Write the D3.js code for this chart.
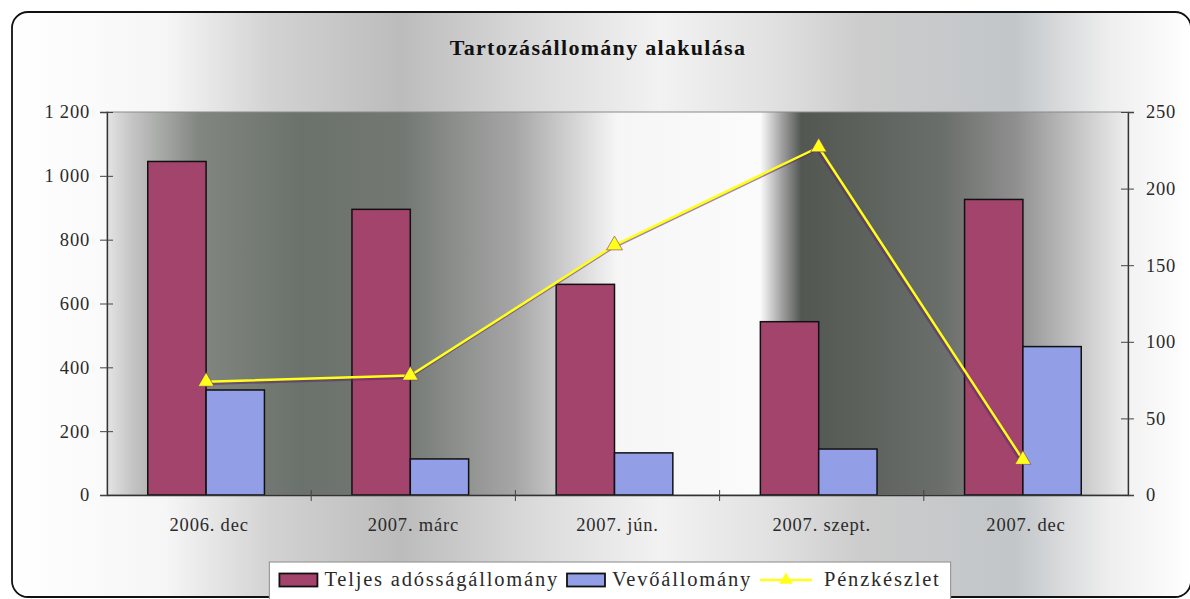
<!DOCTYPE html>
<html>
<head>
<meta charset="utf-8">
<script src="https://cdn.jsdelivr.net/npm/d3@7"></script>
<style>
	body { margin: 0; background: #fff; }
	text { font-family: "Liberation Serif", "DejaVu Serif", serif; fill: #2a2a2a; }
</style>
</head>
<body>
<div id="chart"></div>
<script>
// chart values
const categories = ["2006. dec", "2007. márc", "2007. jún.", "2007. szept.", "2007. dec"];
const debtValues = [1045, 895, 660, 543, 926];
const receivableValues = [329, 113, 132, 144, 465];
const cashValues = [74, 78, 163, 227, 23];
const seriesNames = ["Teljes adósságállomány", "Vevőállomány", "Pénzkészlet"];
const leftTicks = [0, 200, 400, 600, 800, 1000, 1200];
const rightTicks = [0, 50, 100, 150, 200, 250];
const title = "Tartozásállomány alakulása";

const W = 1190, H = 599;
const plot = {left: 107, right: 1128, top: 112, bottom: 495};
const colors = {debt: "#a3446d", recv: "#929ee6", cash: "#ffff1a"};

const huFormat = d3.formatLocale({decimal: ",", thousands: " ", grouping: [3], currency: ["", ""]}).format(",d");

const svg = d3.select("#chart").append("svg")
	.attr("width", W)
	.attr("height", H);

const defs = svg.append("defs");

// outer (scanned, metallic) background
const outerGrad = defs.append("linearGradient").attr("id", "outerGrad");
[[0, "#ffffff"], [0.13, "#f6f6f6"], [0.22, "#d2d2d2"], [0.33, "#bcbcbc"], [0.45, "#dcdcdc"],
	[0.55, "#f2f2f2"], [0.64, "#e2e2e2"], [0.72, "#cccccc"], [0.85, "#c2c6c9"], [0.93, "#eeeeee"], [1, "#ffffff"]]
	.forEach(s => outerGrad.append("stop").attr("offset", s[0]).attr("stop-color", s[1]));

// plot area background
const plotGrad = defs.append("linearGradient").attr("id", "plotGrad");
[[0, "#e4e4e4"], [0.025, "#c4c4c4"], [0.09, "#818681"], [0.19, "#6b716b"], [0.29, "#737873"],
	[0.34, "#8b8e8b"], [0.40, "#a6a6a6"], [0.46, "#d6d6d6"], [0.50, "#f6f6f6"], [0.64, "#fbfbfb"],
	[0.66, "#a4a4a4"], [0.68, "#525752"], [0.75, "#5e635e"], [0.82, "#6b6f6b"], [0.89, "#8f8f8f"],
	[0.955, "#c9c9c9"], [1, "#eeeeee"]]
	.forEach(s => plotGrad.append("stop").attr("offset", s[0]).attr("stop-color", s[1]));

svg.append("rect")
	.attr("x", 12).attr("y", 12)
	.attr("width", W - 11).attr("height", H - 14)
	.attr("rx", 16)
	.attr("fill", "url(#outerGrad)")
	.attr("stroke", "#111")
	.attr("stroke-width", 1.8);

// title
svg.append("text")
	.attr("x", 598).attr("y", 55)
	.attr("text-anchor", "middle")
	.attr("font-size", 22)
	.attr("font-weight", "bold")
	.attr("letter-spacing", 1.3)
	.style("fill", "#111")
	.text(title);

// scales
const x0 = d3.scaleBand()
	.domain(categories)
	.range([plot.left, plot.right]);

const x1 = d3.scaleBand()
	.domain(["debt", "recv"])
	.range([0, x0.bandwidth()])
	.paddingInner(0)
	.paddingOuter(0.75);

const yL = d3.scaleLinear().domain([0, 1200]).range([plot.bottom, plot.top]);
const yR = d3.scaleLinear().domain([0, 250]).range([plot.bottom, plot.top]);

// plot area
svg.append("rect")
	.attr("x", plot.left).attr("y", plot.top)
	.attr("width", plot.right - plot.left).attr("height", plot.bottom - plot.top)
	.attr("fill", "url(#plotGrad)")
	.attr("stroke", "#8a8a8a")
	.attr("stroke-width", 1);

// bars
const barData = categories.map((c, i) => [
	{cat: c, key: "debt", value: debtValues[i]},
	{cat: c, key: "recv", value: receivableValues[i]}
]).flat();

svg.append("g")
	.selectAll("rect")
	.data(barData).enter()
	.append("rect")
	.attr("x", d => x0(d.cat) + x1(d.key) - 3)
	.attr("y", d => yL(d.value))
	.attr("width", x1.bandwidth())
	.attr("height", d => yL(0) - yL(d.value))
	.attr("fill", d => colors[d.key])
	.attr("stroke", "#111")
	.attr("stroke-width", 1.5);

// axes
const leftAxis = svg.append("g")
	.attr("transform", `translate(${plot.left},0)`)
	.call(d3.axisLeft(yL).tickValues(leftTicks).tickFormat(huFormat).tickSize(7).tickPadding(10));

const rightAxis = svg.append("g")
	.attr("transform", `translate(${plot.right},0)`)
	.call(d3.axisRight(yR).tickValues(rightTicks).tickSize(6).tickPadding(12));

const bottomAxis = svg.append("g")
	.attr("transform", `translate(0,${plot.bottom})`)
	.call(d3.axisBottom(x0).tickSize(0).tickPadding(23));

[leftAxis, rightAxis, bottomAxis].forEach(a => {
	a.select(".domain").attr("stroke", "#333").attr("stroke-width", 1.3);
	a.selectAll("line").attr("stroke", "#444");
	a.selectAll("text")
		.attr("font-size", 18.5)
		.attr("letter-spacing", 0.8)
		.style("fill", "#2a2a2a");
});
// crossing tick marks
leftAxis.selectAll(".tick line").attr("x1", 6);
rightAxis.selectAll(".tick line").attr("x1", -7);

// category boundary ticks
svg.append("g")
	.selectAll("line")
	.data(categories.slice(1)).enter()
	.append("line")
	.attr("x1", d => x0(d)).attr("x2", d => x0(d))
	.attr("y1", plot.bottom - 5).attr("y2", plot.bottom + 6)
	.attr("stroke", "#444");

// cash line (right axis)
const linePts = categories.map((c, i) => [x0(c) + x0.bandwidth() / 2 - 3, yR(cashValues[i])]);
const line = d3.line();
const triangle = d3.symbol().type(d3.symbolTriangle).size(110);

svg.append("path")
	.attr("d", line(linePts))
	.attr("transform", "translate(-1.5,2)")
	.attr("fill", "none")
	.attr("stroke", "#5a2a66")
	.attr("stroke-opacity", 0.55)
	.attr("stroke-width", 3);

svg.append("path")
	.attr("d", line(linePts))
	.attr("fill", "none")
	.attr("stroke", colors.cash)
	.attr("stroke-width", 2.5);

svg.append("g")
	.selectAll("path")
	.data(linePts).enter()
	.append("path")
	.attr("d", triangle)
	.attr("transform", d => `translate(${d[0]},${d[1]})`)
	.attr("fill", colors.cash)
	.attr("stroke", "#7a3a6a")
	.attr("stroke-opacity", 0.6)
	.attr("stroke-width", 1);

// legend
const legend = svg.append("g");
const legendBox = legend.append("rect")
	.attr("fill", "#ffffff")
	.attr("stroke", "#9a9a9a")
	.attr("stroke-width", 1.2);

let cx = 0;
const items = legend.append("g");
seriesNames.forEach((name, i) => {
	const g = items.append("g").attr("transform", `translate(${cx},0)`);
	let w;
	if (i < 2) {
		g.append("rect")
			.attr("x", 0).attr("y", -6.5)
			.attr("width", 38).attr("height", 13)
			.attr("fill", i === 0 ? colors.debt : colors.recv)
			.attr("stroke", "#111").attr("stroke-width", 1.8);
		w = 45;
	} else {
		g.append("line")
			.attr("x1", 0).attr("x2", 52).attr("y1", 0).attr("y2", 0)
			.attr("stroke", colors.cash).attr("stroke-width", 2.5);
		g.append("path")
			.attr("d", d3.symbol().type(d3.symbolTriangle).size(75))
			.attr("transform", "translate(26,0)")
			.attr("fill", colors.cash);
		w = 64;
	}
	const t = g.append("text")
		.attr("x", w).attr("y", 6)
		.attr("font-size", 20.5)
		.attr("letter-spacing", 1.8)
		.text(name);
	cx += w + t.node().getComputedTextLength() + 8;
});
const totalW = cx - 8;
const legendLeft = 610 - totalW / 2;
items.attr("transform", `translate(${legendLeft},580)`);
legendBox
	.attr("x", legendLeft - 10).attr("y", 562)
	.attr("width", totalW + 20).attr("height", 40);
</script>
</body>
</html>
